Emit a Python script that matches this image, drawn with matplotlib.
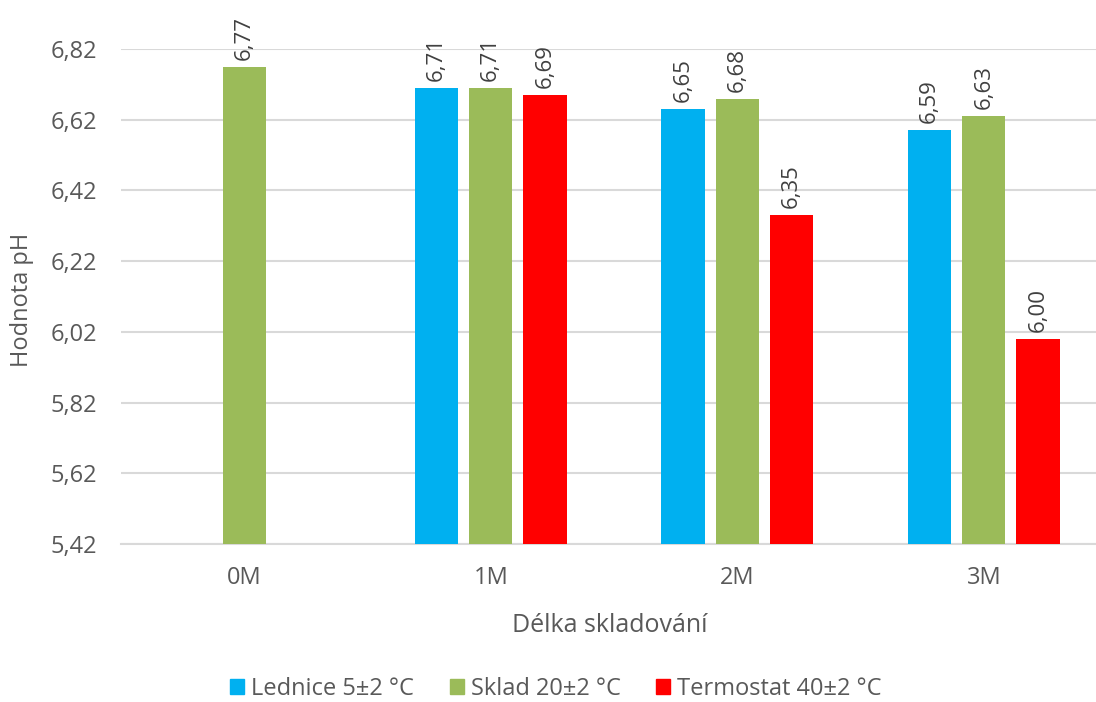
import numpy as np
import matplotlib
matplotlib.use('Agg')
from matplotlib import pyplot as plt
from matplotlib.patches import Patch

# data
categories = ['0M', '1M', '2M', '3M']
series_names = ['Lednice 5±2 °C', 'Sklad 20±2 °C', 'Termostat 40±2 °C']
lednice = [np.nan, 6.71, 6.65, 6.59]
sklad = [6.77, 6.71, 6.68, 6.63]
termostat = [np.nan, 6.69, 6.35, 6.00]
yticks = [5.42, 5.62, 5.82, 6.02, 6.22, 6.42, 6.62, 6.82]
colors = ['#00B0F0', '#9BBB59', '#FF0000']

plt.rcParams['font.family'] = ['Open Sans', 'DejaVu Sans']
txt = '#595959'
fs = 17

fig = plt.figure(figsize=(10.96, 7.02), dpi=100)
ax = fig.add_axes([121/1096, 158/702, 1 - 121/1096, (544-49)/702])

x = np.arange(len(categories))
w = 0.175
step = 0.22
for i, (vals, c) in enumerate(zip([lednice, sklad, termostat], colors)):
    pos = x + (i - 1) * step
    ax.bar(pos, vals, width=w, color=c, bottom=0, zorder=3)
    for p, v in zip(pos, vals):
        if np.isnan(v):
            continue
        ax.annotate(('%.2f' % v).replace('.', ','), (p, v), xytext=(0, 5),
                    textcoords='offset points', rotation=90, ha='center',
                    va='bottom', fontsize=fs - 1, color='#404040')

ax.set_ylim(5.42, 6.82)
ax.set_xlim(-0.5, 3.5 - 11/246.5)
ax.set_yticks(yticks)
ax.set_yticklabels([('%.2f' % t).replace('.', ',') for t in yticks])
ax.set_xticks(x)
ax.set_xticklabels(categories)
ax.grid(axis='y', color='#D9D9D9', linewidth=1.5, zorder=0)
for s in ['top', 'right', 'left']:
    ax.spines[s].set_visible(False)
ax.spines['bottom'].set_color('#D9D9D9')
ax.spines['bottom'].set_linewidth(1.5)
ax.tick_params(axis='both', length=0, labelsize=fs, colors=txt)
ax.tick_params(axis='y', pad=17)
ax.tick_params(axis='x', pad=16)

fig.text(610/1096, 1 - 625/702, 'Délka skladování', ha='center', va='center',
         fontsize=fs + 1, color=txt)
fig.text(22/1096, 1 - 300/702, 'Hodnota pH', ha='center', va='center',
         rotation=90, fontsize=fs, color=txt)

handles = [Patch(color=c) for c in colors]
fig.legend(handles, series_names, loc='center', bbox_to_anchor=(556/1096, 1 - 689/702),
           ncol=3, frameon=False, fontsize=fs, labelcolor=txt,
           handlelength=0.6, handleheight=0.6, handletextpad=0.3, columnspacing=1.5)

fig.savefig('out.png', dpi=100)
